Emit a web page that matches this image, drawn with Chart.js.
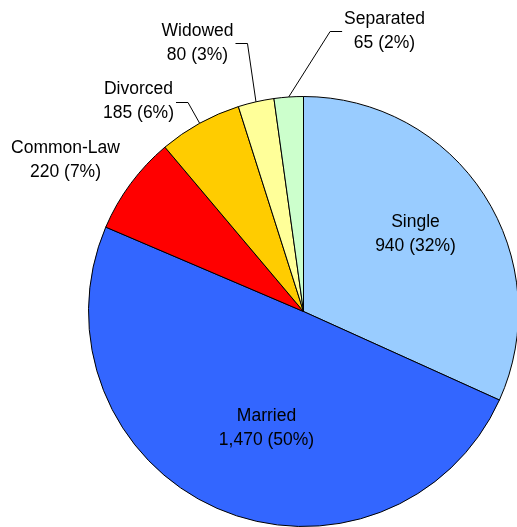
<!DOCTYPE html>
<html>
<head>
<meta charset="utf-8">
<script src="https://cdn.jsdelivr.net/npm/chart.js@4.4.0/dist/chart.umd.min.js"></script>
<style>
  html, body { margin: 0; padding: 0; background: #fff; overflow: hidden; }
  canvas { display: block; }
</style>
</head>
<body>
<canvas id="pieChart" width="519" height="527"></canvas>
<script>
var categories = ['Single', 'Married', 'Common-Law', 'Divorced', 'Widowed', 'Separated'];
var counts = [940, 1470, 220, 185, 80, 65];
var sliceColors = ['#99ccff', '#3366ff', '#ff0000', '#ffcc00', '#ffff99', '#ccffcc'];

// where each label sits, relative to the pie centre (px), and whether it gets a leader line
var labelSpots = [
    { dx: 112, dy: -77, leader: false },
    { dx: -37, dy: 117, leader: false },
    { dx: -238, dy: -151, leader: false },
    { dx: -165, dy: -210, leader: true },
    { dx: -106, dy: -268.5, leader: true },
    { dx: 81, dy: -280.5, leader: true }
];

var total = counts.reduce(function (a, b) { return a + b; }, 0);

var pieLabels = {
    id: 'pieLabels',
    afterDatasetsDraw: function (chart) {
        var ctx = chart.ctx;
        var arcs = chart.getDatasetMeta(0).data;
        ctx.save();
        ctx.font = '17.5px "Liberation Sans", Arial, sans-serif';
        ctx.fillStyle = '#000';
        ctx.strokeStyle = '#000';
        ctx.lineWidth = 1;
        ctx.textAlign = 'center';
        ctx.textBaseline = 'middle';
        arcs.forEach(function (arc, i) {
            var p = arc.getProps(['x', 'y', 'startAngle', 'endAngle', 'outerRadius'], true);
            var spot = labelSpots[i];
            var cx = p.x + spot.dx, cy = p.y + spot.dy;
            var line1 = categories[i];
            var line2 = counts[i].toLocaleString('en-US') + ' (' + Math.round(counts[i] / total * 100) + '%)';
            ctx.fillText(line1, cx, cy - 12);
            ctx.fillText(line2, cx, cy + 12);

            if (spot.leader) {
                var mid = (p.startAngle + p.endAngle) / 2;
                var ax = p.x + Math.cos(mid) * p.outerRadius;
                var ay = p.y + Math.sin(mid) * p.outerRadius;
                var w = Math.max(ctx.measureText(line1).width, ctx.measureText(line2).width);
                var endX, elbowX;
                if (cx > ax) {
                    endX = cx - w / 2 - 2;
                    elbowX = endX - 12;
                } else {
                    endX = cx + w / 2 + 2;
                    elbowX = endX + 12;
                }
                var ly = Math.round(cy) + 0.5;
                ctx.beginPath();
                ctx.moveTo(ax, ay);
                ctx.lineTo(elbowX, ly);
                ctx.lineTo(endX, ly);
                ctx.stroke();
            }
        });
        ctx.restore();
    }
};

var ctx = document.getElementById('pieChart').getContext('2d');
var myChart = new Chart(ctx, {
    type: 'pie',
    data: {
        labels: categories,
        datasets: [{
            data: counts,
            backgroundColor: sliceColors,
            borderColor: '#000',
            borderWidth: 1
        }]
    },
    options: {
        responsive: false,
        animation: false,
        layout: {
            padding: { left: 88, top: 96, right: 0, bottom: 0 }
        },
        plugins: {
            legend: { display: false },
            tooltip: { enabled: false }
        }
    },
    plugins: [pieLabels]
});
</script>
</body>
</html>
